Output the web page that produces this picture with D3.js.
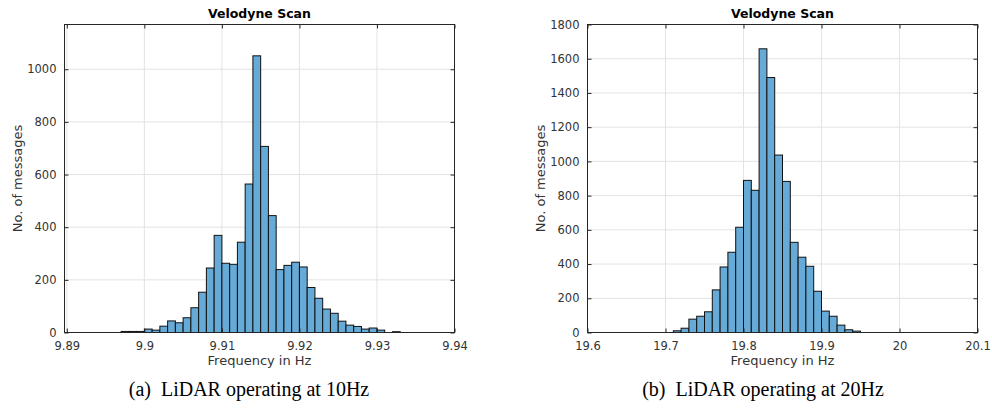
<!DOCTYPE html>
<html>
<head>
<meta charset="utf-8">
<script src="https://cdn.jsdelivr.net/npm/d3@7"></script>
<style>
  body { margin: 0; background: #fff; }
  svg { display: block; }
</style>
</head>
<body>
<svg id="chart" width="992" height="415"></svg>
<script>
// Velodyne scan message-rate histograms, 10Hz and 20Hz

// 10Hz panel: bin counts, bins start at 9.897 with width 0.001
const bins10Start = 9.897;
const bins10Width = 0.001;
const counts10 = [4, 4, 4, 13, 9, 24, 44, 37, 56, 94, 153, 245, 369, 263, 259, 343,
  564, 1051, 707, 444, 239, 255, 267, 249, 171, 130, 89, 73, 43, 28, 23, 13, 17, 9, 0, 3];
const xTicks10 = [9.89, 9.9, 9.91, 9.92, 9.93, 9.94];
const yTicks10 = [0, 200, 400, 600, 800, 1000];

// 20Hz panel: bins start at 19.71 with width 0.01
const bins20Start = 19.71;
const bins20Width = 0.01;
const counts20 = [10, 25, 78, 95, 121, 249, 383, 469, 615, 889, 831, 1658, 1490, 1037,
  883, 527, 440, 387, 241, 125, 95, 43, 16, 8];
const xTicks20 = [19.6, 19.7, 19.8, 19.9, 20, 20.1];
const yTicks20 = [0, 200, 400, 600, 800, 1000, 1200, 1400, 1600, 1800];

const titleText = "Velodyne Scan";
const xLabelText = "Frequency in Hz";
const yLabelText = "No. of messages";
const captions = ["(a)  LiDAR operating at 10Hz", "(b)  LiDAR operating at 20Hz"];

const svg = d3.select("#chart");
const axisColor = "#262626";
const gridColor = "#e3e3e3";
const barFill = "#66aad7";
const sansFont = "'DejaVu Sans', sans-serif";

function drawPanel(opts) {
  const { left, top, width, height, xDomain, yDomain, xTicks, yTicks,
    start, binWidth, counts, caption, captionX } = opts;

  const g = svg.append("g").attr("transform", `translate(${left},${top})`);

  const x = d3.scaleLinear().domain(xDomain).range([0, width]);
  const y = d3.scaleLinear().domain(yDomain).range([height, 0]);

  // grid
  g.append("g").selectAll("line.vgrid")
    .data(xTicks.filter(t => x(t) > 0.5 && x(t) < width - 0.5))
    .enter().append("line")
    .attr("x1", d => x(d)).attr("x2", d => x(d))
    .attr("y1", 0).attr("y2", height)
    .attr("stroke", gridColor).attr("stroke-width", 1);
  g.append("g").selectAll("line.hgrid")
    .data(yTicks.filter(t => y(t) > 0.5 && y(t) < height - 0.5))
    .enter().append("line")
    .attr("x1", 0).attr("x2", width)
    .attr("y1", d => y(d)).attr("y2", d => y(d))
    .attr("stroke", gridColor).attr("stroke-width", 1);

  // bars
  const bins = counts.map((c, i) => ({
    x0: start + i * binWidth,
    x1: start + (i + 1) * binWidth,
    count: c
  })).filter(d => d.count > 0);

  g.append("g").selectAll("rect")
    .data(bins)
    .enter().append("rect")
    .attr("x", d => x(d.x0))
    .attr("width", d => x(d.x1) - x(d.x0))
    .attr("y", d => y(d.count))
    .attr("height", d => y(0) - y(d.count))
    .attr("fill", barFill)
    .attr("stroke", "#111")
    .attr("stroke-width", 1);

  // axes (ticks pointing inward, on all four sides)
  const fmt = d => String(+d.toFixed(3));
  g.append("g")
    .attr("transform", `translate(0,${height})`)
    .call(d3.axisBottom(x).tickValues(xTicks).tickFormat(fmt).tickSizeInner(-4).tickSizeOuter(0).tickPadding(9));
  g.append("g")
    .call(d3.axisLeft(y).tickValues(yTicks).tickFormat(d3.format("d")).tickSizeInner(-4).tickSizeOuter(0).tickPadding(8));
  g.append("g")
    .call(d3.axisTop(x).tickValues(xTicks).tickFormat("").tickSizeInner(-4).tickSizeOuter(0));
  g.append("g")
    .attr("transform", `translate(${width},0)`)
    .call(d3.axisRight(y).tickValues(yTicks).tickFormat("").tickSizeInner(-4).tickSizeOuter(0));

  g.selectAll(".domain").remove();
  g.selectAll(".tick line").attr("stroke", axisColor);
  g.selectAll(".tick text")
    .attr("fill", "#333")
    .style("font-family", sansFont)
    .style("font-size", "11.5px");

  // box
  g.append("rect")
    .attr("x", 0).attr("y", 0)
    .attr("width", width).attr("height", height)
    .attr("fill", "none")
    .attr("stroke", axisColor)
    .attr("stroke-width", 1);

  // title
  g.append("text")
    .attr("x", width / 2).attr("y", -7)
    .attr("text-anchor", "middle")
    .style("font-family", sansFont)
    .style("font-weight", "bold")
    .style("font-size", "12.5px")
    .attr("fill", "#000")
    .text(titleText);

  // axis labels
  g.append("text")
    .attr("x", width / 2).attr("y", height + 32)
    .attr("text-anchor", "middle")
    .style("font-family", sansFont)
    .style("font-size", "13px")
    .attr("fill", "#333")
    .text(xLabelText);

  g.append("text")
    .attr("transform", `translate(${opts.yLabelX},${height / 2}) rotate(-90)`)
    .attr("text-anchor", "middle")
    .style("font-family", sansFont)
    .style("font-size", "13px")
    .attr("fill", "#333")
    .text(yLabelText);

  // sub-figure caption
  svg.append("text")
    .attr("x", captionX).attr("y", 396)
    .attr("text-anchor", "middle")
    .style("font-family", "'Liberation Serif', 'Times New Roman', serif")
    .style("font-size", "20px")
    .attr("fill", "#000")
    .style("white-space", "pre")
    .text(caption);
}

drawPanel({
  left: 64.5, top: 24.5, width: 390, height: 308,
  xDomain: [9.8897, 9.94], yDomain: [0, 1170],
  xTicks: xTicks10, yTicks: yTicks10,
  start: bins10Start, binWidth: bins10Width, counts: counts10,
  yLabelX: -43, caption: captions[0], captionX: 249
});

drawPanel({
  left: 587.5, top: 24.5, width: 390, height: 308,
  xDomain: [19.6, 20.1], yDomain: [0, 1800],
  xTicks: xTicks20, yTicks: yTicks20,
  start: bins20Start, binWidth: bins20Width, counts: counts20,
  yLabelX: -43, caption: captions[1], captionX: 763
});
</script>
</body>
</html>
